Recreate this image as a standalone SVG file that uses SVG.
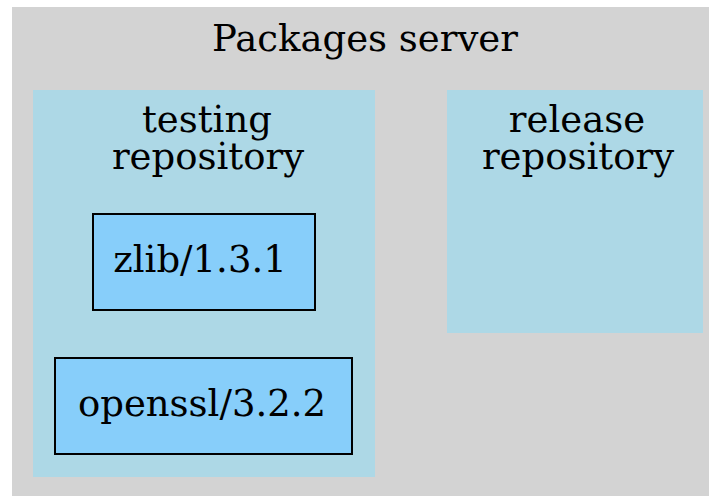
<svg xmlns="http://www.w3.org/2000/svg" width="709" height="496" viewBox="0 0 709 496">
<style>
text{font-family:"DejaVu Serif",serif;font-size:37px;fill:#000;text-anchor:middle}
.cl{fill:#add8e6;stroke:none}
.nd{fill:#87cefa;stroke:#000;stroke-width:2}
</style>
<rect width="709" height="496" fill="#ffffff"/>
<g id="server">
<rect x="12" y="7" width="697" height="489" fill="#d3d3d3"/>
<text x="365" y="51">Packages server</text>
</g>
<g id="testing">
<rect class="cl" x="33" y="90" width="342" height="387"/>
<text x="207" y="132">testing</text>
<text x="208" y="169">repository</text>
</g>
<g id="release">
<rect class="cl" x="447" y="90" width="256" height="243"/>
<text x="577" y="132">release</text>
<text x="578" y="169">repository</text>
</g>
<g id="zlib">
<rect class="nd" x="93" y="214" width="222" height="96"/>
<text x="200" y="272">zlib/1.3.1</text>
</g>
<g id="openssl">
<rect class="nd" x="55" y="358" width="297" height="96"/>
<text x="202" y="416">openssl/3.2.2</text>
</g>
<g id="connectors"></g>
</svg>
